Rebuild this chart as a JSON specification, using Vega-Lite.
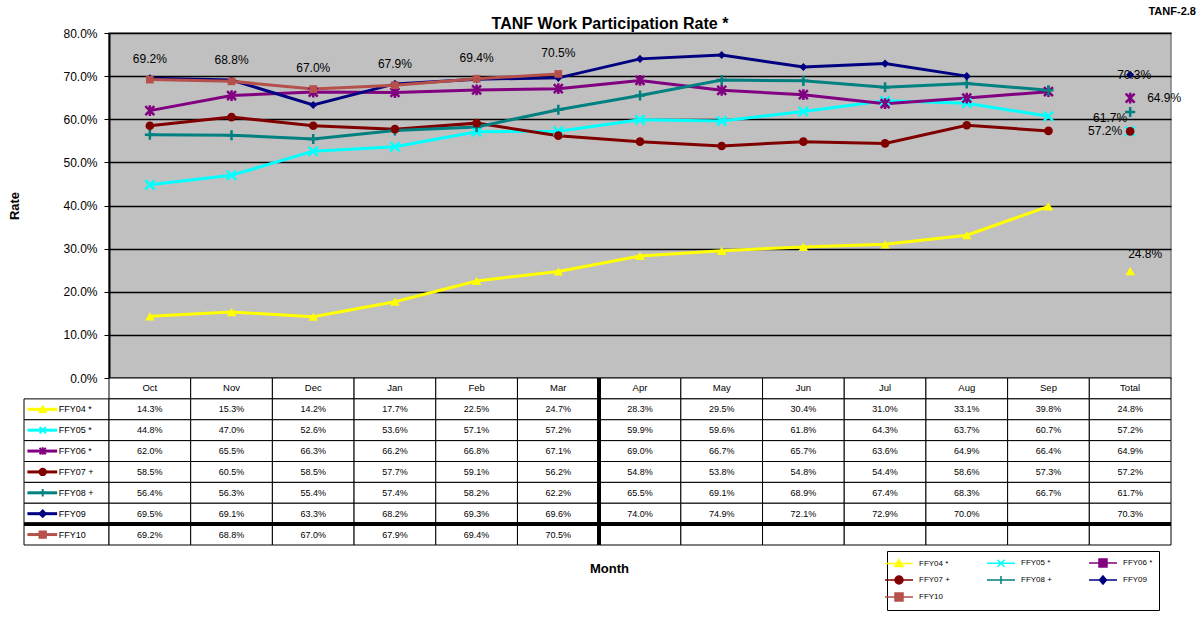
{
  "$schema": "https://vega.github.io/schema/vega-lite/v6.json",
  "background": "white",
  "padding": {"left": 8, "top": 6, "right": 5, "bottom": 5},
  "title": {"text": "TANF-2.8", "anchor": "end", "frame": "bounds", "fontSize": 11, "fontWeight": "bold", "font": "Liberation Sans", "dx": 14, "offset": -2, "color": "black"},
  "columns": 2,
  "spacing": 0,
  "bounds": "flush",
  "align": "each",
  "resolve": {
    "scale": {"color": "independent", "fill": "independent", "stroke": "independent", "shape": "independent", "size": "independent", "strokeWidth": "independent"},
    "legend": {"color": "independent", "fill": "independent", "stroke": "independent", "shape": "independent", "size": "independent", "strokeWidth": "independent"}
  },
  "datasets": {
    "d": [
      {"series": "FFY04 *", "month": "Oct", "rate": 0.143}, {"series": "FFY04 *", "month": "Nov", "rate": 0.153}, {"series": "FFY04 *", "month": "Dec", "rate": 0.142}, {"series": "FFY04 *", "month": "Jan", "rate": 0.177}, {"series": "FFY04 *", "month": "Feb", "rate": 0.225}, {"series": "FFY04 *", "month": "Mar", "rate": 0.247}, {"series": "FFY04 *", "month": "Apr", "rate": 0.283}, {"series": "FFY04 *", "month": "May", "rate": 0.295}, {"series": "FFY04 *", "month": "Jun", "rate": 0.304}, {"series": "FFY04 *", "month": "Jul", "rate": 0.310}, {"series": "FFY04 *", "month": "Aug", "rate": 0.331}, {"series": "FFY04 *", "month": "Sep", "rate": 0.398}, {"series": "FFY04 *", "month": "Total", "rate": 0.248},
      {"series": "FFY05 *", "month": "Oct", "rate": 0.448}, {"series": "FFY05 *", "month": "Nov", "rate": 0.470}, {"series": "FFY05 *", "month": "Dec", "rate": 0.526}, {"series": "FFY05 *", "month": "Jan", "rate": 0.536}, {"series": "FFY05 *", "month": "Feb", "rate": 0.571}, {"series": "FFY05 *", "month": "Mar", "rate": 0.572}, {"series": "FFY05 *", "month": "Apr", "rate": 0.599}, {"series": "FFY05 *", "month": "May", "rate": 0.596}, {"series": "FFY05 *", "month": "Jun", "rate": 0.618}, {"series": "FFY05 *", "month": "Jul", "rate": 0.643}, {"series": "FFY05 *", "month": "Aug", "rate": 0.637}, {"series": "FFY05 *", "month": "Sep", "rate": 0.607}, {"series": "FFY05 *", "month": "Total", "rate": 0.572},
      {"series": "FFY06 *", "month": "Oct", "rate": 0.620}, {"series": "FFY06 *", "month": "Nov", "rate": 0.655}, {"series": "FFY06 *", "month": "Dec", "rate": 0.663}, {"series": "FFY06 *", "month": "Jan", "rate": 0.662}, {"series": "FFY06 *", "month": "Feb", "rate": 0.668}, {"series": "FFY06 *", "month": "Mar", "rate": 0.671}, {"series": "FFY06 *", "month": "Apr", "rate": 0.690}, {"series": "FFY06 *", "month": "May", "rate": 0.667}, {"series": "FFY06 *", "month": "Jun", "rate": 0.657}, {"series": "FFY06 *", "month": "Jul", "rate": 0.636}, {"series": "FFY06 *", "month": "Aug", "rate": 0.649}, {"series": "FFY06 *", "month": "Sep", "rate": 0.664}, {"series": "FFY06 *", "month": "Total", "rate": 0.649},
      {"series": "FFY07 +", "month": "Oct", "rate": 0.585}, {"series": "FFY07 +", "month": "Nov", "rate": 0.605}, {"series": "FFY07 +", "month": "Dec", "rate": 0.585}, {"series": "FFY07 +", "month": "Jan", "rate": 0.577}, {"series": "FFY07 +", "month": "Feb", "rate": 0.591}, {"series": "FFY07 +", "month": "Mar", "rate": 0.562}, {"series": "FFY07 +", "month": "Apr", "rate": 0.548}, {"series": "FFY07 +", "month": "May", "rate": 0.538}, {"series": "FFY07 +", "month": "Jun", "rate": 0.548}, {"series": "FFY07 +", "month": "Jul", "rate": 0.544}, {"series": "FFY07 +", "month": "Aug", "rate": 0.586}, {"series": "FFY07 +", "month": "Sep", "rate": 0.573}, {"series": "FFY07 +", "month": "Total", "rate": 0.572},
      {"series": "FFY08 +", "month": "Oct", "rate": 0.564}, {"series": "FFY08 +", "month": "Nov", "rate": 0.563}, {"series": "FFY08 +", "month": "Dec", "rate": 0.554}, {"series": "FFY08 +", "month": "Jan", "rate": 0.574}, {"series": "FFY08 +", "month": "Feb", "rate": 0.582}, {"series": "FFY08 +", "month": "Mar", "rate": 0.622}, {"series": "FFY08 +", "month": "Apr", "rate": 0.655}, {"series": "FFY08 +", "month": "May", "rate": 0.691}, {"series": "FFY08 +", "month": "Jun", "rate": 0.689}, {"series": "FFY08 +", "month": "Jul", "rate": 0.674}, {"series": "FFY08 +", "month": "Aug", "rate": 0.683}, {"series": "FFY08 +", "month": "Sep", "rate": 0.667}, {"series": "FFY08 +", "month": "Total", "rate": 0.617},
      {"series": "FFY09", "month": "Oct", "rate": 0.695}, {"series": "FFY09", "month": "Nov", "rate": 0.691}, {"series": "FFY09", "month": "Dec", "rate": 0.633}, {"series": "FFY09", "month": "Jan", "rate": 0.682}, {"series": "FFY09", "month": "Feb", "rate": 0.693}, {"series": "FFY09", "month": "Mar", "rate": 0.696}, {"series": "FFY09", "month": "Apr", "rate": 0.740}, {"series": "FFY09", "month": "May", "rate": 0.749}, {"series": "FFY09", "month": "Jun", "rate": 0.721}, {"series": "FFY09", "month": "Jul", "rate": 0.729}, {"series": "FFY09", "month": "Aug", "rate": 0.700}, {"series": "FFY09", "month": "Sep", "rate": null}, {"series": "FFY09", "month": "Total", "rate": 0.703},
      {"series": "FFY10", "month": "Oct", "rate": 0.692}, {"series": "FFY10", "month": "Nov", "rate": 0.688}, {"series": "FFY10", "month": "Dec", "rate": 0.670}, {"series": "FFY10", "month": "Jan", "rate": 0.679}, {"series": "FFY10", "month": "Feb", "rate": 0.694}, {"series": "FFY10", "month": "Mar", "rate": 0.705}, {"series": "FFY10", "month": "Apr", "rate": null}, {"series": "FFY10", "month": "May", "rate": null}, {"series": "FFY10", "month": "Jun", "rate": null}, {"series": "FFY10", "month": "Jul", "rate": null}, {"series": "FFY10", "month": "Aug", "rate": null}, {"series": "FFY10", "month": "Sep", "rate": null}, {"series": "FFY10", "month": "Total", "rate": null}
    ],
    "months": [{"month": "Oct"}, {"month": "Nov"}, {"month": "Dec"}, {"month": "Jan"}, {"month": "Feb"}, {"month": "Mar"}, {"month": "Apr"}, {"month": "May"}, {"month": "Jun"}, {"month": "Jul"}, {"month": "Aug"}, {"month": "Sep"}, {"month": "Total"}],
    "series": [{"series": "FFY04 *"}, {"series": "FFY05 *"}, {"series": "FFY06 *"}, {"series": "FFY07 +"}, {"series": "FFY08 +"}, {"series": "FFY09"}, {"series": "FFY10"}]
  },
  "concat": [
    {
      "width": 85, "height": 345,
      "data": {"values": [{}]},
      "mark": {"type": "point", "opacity": 0},
      "encoding": {}
    },
    {
      "width": 1062, "height": 345,
      "data": {"name": "d"},
      "view": {"fill": "#C0C0C0", "stroke": "#808080", "strokeWidth": 1.5},
      "title": {"text": "TANF Work Participation Rate *", "fontSize": 16, "fontWeight": "bold", "font": "Liberation Sans", "anchor": "middle", "frame": "group", "offset": -5, "dx": -30, "color": "black"},
      "encoding": {
        "x": {"field": "month", "type": "ordinal", "sort": ["Oct", "Nov", "Dec", "Jan", "Feb", "Mar", "Apr", "May", "Jun", "Jul", "Aug", "Sep", "Total"], "scale": {"type": "point", "padding": 0.5}, "axis": null},
        "y": {"field": "rate", "type": "quantitative", "title": "Rate", "scale": {"domain": [0, 0.8], "nice": false, "zero": true},
          "axis": {"format": ".1%", "values": [0, 0.1, 0.2, 0.3, 0.4, 0.5, 0.6, 0.7, 0.8], "grid": true, "gridColor": "black", "gridWidth": 1.5, "gridOpacity": 1, "domainColor": "black", "domainWidth": 2, "tickColor": "black", "tickSize": 5, "tickWidth": 1, "labelFontSize": 12, "labelColor": "black", "labelFont": "Liberation Sans", "labelPadding": 7, "titleFontSize": 13, "titleFont": "Liberation Sans", "titleFontWeight": "bold", "titleColor": "black", "titlePadding": 41}}
      },
      "layer": [
        {
          "transform": [{"filter": "datum.month !== 'Total'"}],
          "mark": {"type": "line"},
          "encoding": {
            "color": {"field": "series", "type": "nominal", "scale": {"domain": ["FFY04 *", "FFY05 *", "FFY06 *", "FFY07 +", "FFY08 +", "FFY09", "FFY10"], "range": ["#FFFF00", "#00FFFF", "#800080", "#800000", "#008080", "#000080", "#B5504B"]}, "legend": null},
            "strokeWidth": {"field": "series", "type": "ordinal", "scale": {"domain": ["FFY04 *", "FFY05 *", "FFY06 *", "FFY07 +", "FFY08 +", "FFY09", "FFY10"], "range": [3, 3, 3.5, 3, 3.5, 2, 3.5]}, "legend": null}
          }
        },
        {
          "transform": [{"filter": "indexof(['FFY04 *', 'FFY07 +', 'FFY09', 'FFY10'], datum.series) < 0"}],
          "mark": {"type": "point", "filled": false, "opacity": 1, "strokeWidth": 2.5},
          "encoding": {
            "color": {"field": "series", "type": "nominal", "scale": {"domain": ["FFY04 *", "FFY05 *", "FFY06 *", "FFY07 +", "FFY08 +", "FFY09", "FFY10"], "range": ["#FFFF00", "#00FFFF", "#800080", "#800000", "#008080", "#000080", "#B5504B"]}, "legend": null},
            "shape": {"field": "series", "type": "nominal", "scale": {"domain": ["FFY04 *", "FFY05 *", "FFY06 *", "FFY07 +", "FFY08 +", "FFY09", "FFY10"], "range": ["triangle-up", "M-1,-1L1,1M1,-1L-1,1", "M-1,-1L1,1M1,-1L-1,1M0,-1.2L0,1.2", "circle", "M-1.2,0L1.2,0M0,-1.2L0,1.2", "diamond", "square"]}, "legend": null},
            "size": {"field": "series", "type": "ordinal", "scale": {"domain": ["FFY04 *", "FFY05 *", "FFY06 *", "FFY07 +", "FFY08 +", "FFY09", "FFY10"], "range": [90, 60, 60, 110, 60, 60, 150]}, "legend": null}
          }
        },
        {
          "transform": [{"filter": "indexof(['FFY04 *', 'FFY07 +', 'FFY09', 'FFY10'], datum.series) >= 0"}],
          "mark": {"type": "point", "filled": true, "opacity": 1},
          "encoding": {
            "color": {"field": "series", "type": "nominal", "scale": {"domain": ["FFY04 *", "FFY05 *", "FFY06 *", "FFY07 +", "FFY08 +", "FFY09", "FFY10"], "range": ["#FFFF00", "#00FFFF", "#800080", "#800000", "#008080", "#000080", "#B5504B"]}, "legend": null},
            "shape": {"field": "series", "type": "nominal", "scale": {"domain": ["FFY04 *", "FFY05 *", "FFY06 *", "FFY07 +", "FFY08 +", "FFY09", "FFY10"], "range": ["triangle-up", "M-1,-1L1,1M1,-1L-1,1", "M-1,-1L1,1M1,-1L-1,1M0,-1.2L0,1.2", "circle", "M-1.2,0L1.2,0M0,-1.2L0,1.2", "diamond", "square"]}, "legend": null},
            "size": {"field": "series", "type": "ordinal", "scale": {"domain": ["FFY04 *", "FFY05 *", "FFY06 *", "FFY07 +", "FFY08 +", "FFY09", "FFY10"], "range": [90, 60, 60, 110, 60, 60, 150]}, "legend": null}
          }
        },
        {
          "transform": [{"filter": "datum.series === 'FFY10' && datum.rate != null && datum.month !== 'Total'"}],
          "mark": {"type": "text", "fontSize": 12, "font": "Liberation Sans", "color": "black", "baseline": "middle", "dy": -21},
          "encoding": {"text": {"field": "rate", "type": "quantitative", "format": ".1%"}}
        },
        {
          "transform": [{"filter": "datum.series === 'FFY09' && datum.month === 'Total'"}],
          "mark": {"type": "text", "fontSize": 12, "font": "Liberation Sans", "color": "black", "baseline": "middle", "align": "center", "dx": 4},
          "encoding": {"text": {"field": "rate", "type": "quantitative", "format": ".1%"}}
        },
        {
          "transform": [{"filter": "datum.series === 'FFY06 *' && datum.month === 'Total'"}],
          "mark": {"type": "text", "fontSize": 12, "font": "Liberation Sans", "color": "black", "baseline": "middle", "align": "left", "dx": 17},
          "encoding": {"text": {"field": "rate", "type": "quantitative", "format": ".1%"}}
        },
        {
          "transform": [{"filter": "datum.series === 'FFY08 +' && datum.month === 'Total'"}],
          "mark": {"type": "text", "fontSize": 12, "font": "Liberation Sans", "color": "black", "baseline": "middle", "align": "right", "dx": -3, "dy": 6},
          "encoding": {"text": {"field": "rate", "type": "quantitative", "format": ".1%"}}
        },
        {
          "transform": [{"filter": "datum.series === 'FFY07 +' && datum.month === 'Total'"}],
          "mark": {"type": "text", "fontSize": 12, "font": "Liberation Sans", "color": "black", "baseline": "middle", "align": "right", "dx": -8},
          "encoding": {"text": {"field": "rate", "type": "quantitative", "format": ".1%"}}
        },
        {
          "transform": [{"filter": "datum.series === 'FFY04 *' && datum.month === 'Total'"}],
          "mark": {"type": "text", "fontSize": 12, "font": "Liberation Sans", "color": "black", "baseline": "middle", "align": "center", "dx": 15, "dy": -17},
          "encoding": {"text": {"field": "rate", "type": "quantitative", "format": ".1%"}}
        }
      ]
    },
    {
      "width": 85, "height": 167,
      "data": {"name": "series"},
      "encoding": {
        "y": {"field": "series", "type": "nominal", "scale": {"domain": ["hdr", "FFY04 *", "FFY05 *", "FFY06 *", "FFY07 +", "FFY08 +", "FFY09", "FFY10"], "paddingInner": 0, "paddingOuter": 0}, "axis": null}
      },
      "layer": [
        {
          "mark": {"type": "rect", "fill": "white", "stroke": "black", "strokeWidth": 1},
          "encoding": {
            "x": {"datum": 0, "type": "quantitative", "scale": {"domain": [0, 1], "nice": false, "zero": false}, "axis": null},
            "x2": {"datum": 1}
          }
        },
        {
          "mark": {"type": "rule", "strokeWidth": 3},
          "encoding": {
            "x": {"datum": 0.04, "type": "quantitative", "scale": {"domain": [0, 1], "nice": false, "zero": false}, "axis": null},
            "x2": {"datum": 0.39},
            "color": {"field": "series", "type": "nominal", "scale": {"domain": ["FFY04 *", "FFY05 *", "FFY06 *", "FFY07 +", "FFY08 +", "FFY09", "FFY10"], "range": ["#FFFF00", "#00FFFF", "#800080", "#800000", "#008080", "#000080", "#B5504B"]}, "legend": null}
          }
        },
        {
          "mark": {"type": "point", "filled": true, "opacity": 1, "strokeWidth": 2},
          "encoding": {
            "x": {"datum": 0.22, "type": "quantitative", "scale": {"domain": [0, 1], "nice": false, "zero": false}, "axis": null},
            "fill": {"field": "series", "type": "nominal", "scale": {"domain": ["FFY04 *", "FFY05 *", "FFY06 *", "FFY07 +", "FFY08 +", "FFY09", "FFY10"], "range": ["#FFFF00", "#00FFFF", "#800080", "#800000", "#008080", "#000080", "#B5504B"]}, "legend": null},
            "stroke": {"field": "series", "type": "nominal", "scale": {"domain": ["FFY04 *", "FFY05 *", "FFY06 *", "FFY07 +", "FFY08 +", "FFY09", "FFY10"], "range": ["#FFFF00", "#00FFFF", "#800080", "#800000", "#008080", "#000080", "#B5504B"]}, "legend": null},
            "shape": {"field": "series", "type": "nominal", "scale": {"domain": ["FFY04 *", "FFY05 *", "FFY06 *", "FFY07 +", "FFY08 +", "FFY09", "FFY10"], "range": ["triangle-up", "M-1,-1L1,1M1,-1L-1,1", "M-1,-1L1,1M1,-1L-1,1M0,-1.2L0,1.2", "circle", "M-1.2,0L1.2,0M0,-1.2L0,1.2", "diamond", "square"]}, "legend": null},
            "size": {"value": 40}
          }
        },
        {
          "mark": {"type": "text", "align": "left", "baseline": "middle", "fontSize": 9, "font": "Liberation Sans", "color": "black"},
          "encoding": {
            "x": {"datum": 0.41, "type": "quantitative", "scale": {"domain": [0, 1], "nice": false, "zero": false}, "axis": null},
            "text": {"field": "series"}
          }
        },
        {
          "mark": {"type": "rule", "strokeWidth": 3, "color": "black"},
          "encoding": {"y": {"datum": "FFY10", "bandPosition": 0}}
        }
      ]
    },
    {
      "width": 1062, "height": 167,
      "encoding": {
        "x": {"field": "month", "type": "ordinal", "scale": {"domain": ["Oct", "Nov", "Dec", "Jan", "Feb", "Mar", "Apr", "May", "Jun", "Jul", "Aug", "Sep", "Total"], "paddingInner": 0, "paddingOuter": 0},
          "axis": {"labels": false, "ticks": false, "domain": false, "title": "Month", "titleFontSize": 13, "titleFont": "Liberation Sans", "titleFontWeight": "bold", "titleColor": "black", "titlePadding": 17, "titleX": 500}},
        "y": {"field": "series", "type": "nominal", "scale": {"domain": ["hdr", "FFY04 *", "FFY05 *", "FFY06 *", "FFY07 +", "FFY08 +", "FFY09", "FFY10"], "paddingInner": 0, "paddingOuter": 0}, "axis": null}
      },
      "layer": [
        {
          "data": {"name": "months"},
          "mark": {"type": "rect", "fill": "white", "stroke": "black", "strokeWidth": 1},
          "encoding": {"y": {"datum": "hdr"}}
        },
        {
          "data": {"name": "months"},
          "mark": {"type": "text", "fontSize": 9.5, "font": "Liberation Sans", "color": "black", "baseline": "middle"},
          "encoding": {"y": {"datum": "hdr"}, "text": {"field": "month"}}
        },
        {
          "data": {"name": "d"},
          "mark": {"type": "rect", "fill": "white", "stroke": "black", "strokeWidth": 1}
        },
        {
          "data": {"name": "d"},
          "transform": [{"filter": "datum.rate != null"}],
          "mark": {"type": "text", "fontSize": 9, "font": "Liberation Sans", "color": "black", "baseline": "middle"},
          "encoding": {"text": {"field": "rate", "type": "quantitative", "format": ".1%"}}
        },
        {
          "data": {"name": "months"},
          "mark": {"type": "rule", "strokeWidth": 3, "color": "black"},
          "encoding": {"x": {"datum": "Apr", "bandPosition": 0}, "y": null}
        },
        {
          "data": {"name": "months"},
          "mark": {"type": "rule", "strokeWidth": 3, "color": "black"},
          "encoding": {"y": {"datum": "FFY10", "bandPosition": 0}, "x": null}
        },
        {
          "data": {"name": "series"},
          "mark": {"type": "point", "filled": true, "opacity": 0},
          "encoding": {
            "x": null, "y": null,
            "fill": {"field": "series", "type": "nominal", "scale": {"domain": ["FFY04 *", "FFY05 *", "FFY06 *", "FFY07 +", "FFY08 +", "FFY09", "FFY10"], "range": ["#FFFF00", "#00FFFF", "#800080", "#800000", "#008080", "#000080", "#B5504B"]},
              "legend": {"orient": "none", "direction": "horizontal", "legendX": 778, "legendY": 173, "columns": 3, "title": null, "symbolOpacity": 1, "symbolSize": 100, "symbolStrokeWidth": 1.5, "labelFontSize": 8, "labelFont": "Liberation Sans", "labelColor": "black", "labelOffset": 14, "strokeColor": "black", "padding": 6, "columnPadding": 34, "rowPadding": 3}},
            "stroke": {"field": "series", "type": "nominal", "scale": {"domain": ["FFY04 *", "FFY05 *", "FFY06 *", "FFY07 +", "FFY08 +", "FFY09", "FFY10"], "range": ["#FFFF00", "#00FFFF", "#800080", "#800000", "#008080", "#000080", "#B5504B"]},
              "legend": {"orient": "none", "direction": "horizontal", "legendX": 778, "legendY": 173, "columns": 3, "title": null, "symbolOpacity": 1, "symbolSize": 100, "symbolStrokeWidth": 1.5, "labelFontSize": 8, "labelFont": "Liberation Sans", "labelColor": "black", "labelOffset": 14, "strokeColor": "black", "padding": 6, "columnPadding": 34, "rowPadding": 3}},
            "shape": {"field": "series", "type": "nominal", "scale": {"domain": ["FFY04 *", "FFY05 *", "FFY06 *", "FFY07 +", "FFY08 +", "FFY09", "FFY10"], "range": ["M-2.8,0L2.8,0M0,-0.8L0.8,0.6L-0.8,0.6Z", "M-2.8,0L2.8,0M-0.7,-0.7L0.7,0.7M0.7,-0.7L-0.7,0.7", "M-2.8,0L2.8,0M-0.8,-0.8L0.8,-0.8L0.8,0.8L-0.8,0.8Z", "M-2.8,0L2.8,0M-0.8,0A0.8,0.8,0,1,0,0.8,0A0.8,0.8,0,1,0,-0.8,0Z", "M-2.8,0L2.8,0M0,-0.8L0,0.8", "M-2.8,0L2.8,0M0,-0.8L0.7,0L0,0.8L-0.7,0Z", "M-2.8,0L2.8,0M-0.8,-0.8L0.8,-0.8L0.8,0.8L-0.8,0.8Z"]},
              "legend": {"orient": "none", "direction": "horizontal", "legendX": 778, "legendY": 173, "columns": 3, "title": null, "symbolOpacity": 1, "symbolSize": 100, "symbolStrokeWidth": 1.5, "labelFontSize": 8, "labelFont": "Liberation Sans", "labelColor": "black", "labelOffset": 14, "strokeColor": "black", "padding": 6, "columnPadding": 34, "rowPadding": 3}}
          }
        }
      ]
    }
  ],
  "config": {
    "view": {"stroke": null},
    "font": "Liberation Sans",
    "text": {"font": "Liberation Sans"}
  }
}
